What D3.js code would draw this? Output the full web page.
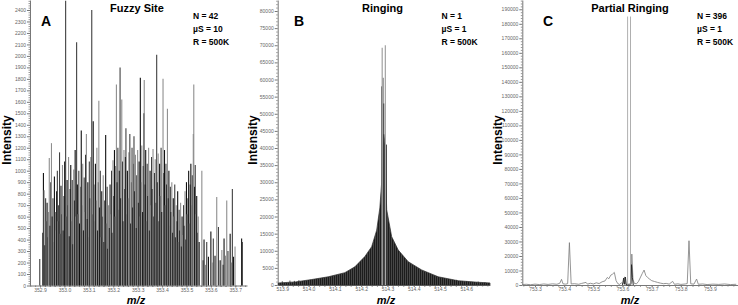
<!DOCTYPE html>
<html>
<head>
<meta charset="utf-8">
<script src="https://cdn.jsdelivr.net/npm/d3@7"></script>
<style>
  body { margin: 0; background: #fff; }
  svg { display: block; font-family: "Liberation Sans", Arial, sans-serif; }
  .tick text { fill: #666; }
</style>
</head>
<body>
<div id="chart"></div>
<script>
// ---- Panel A: Fuzzy Site (stick spectra, [m/z, intensity, shade]) ----
const fuzzySticks = [
  [352.899,230,"d"],[352.911,460,"d"],[352.914,980,"k"],[352.917,830,"l"],[352.920,350,"k"],
  [352.923,760,"d"],[352.926,560,"l"],[352.929,720,"k"],[352.932,420,"d"],[352.935,640,"l"],
  [352.938,1110,"l"],[352.941,520,"k"],[352.944,900,"d"],[352.947,1240,"l"],[352.950,600,"k"],
  [352.953,760,"d"],[352.956,380,"l"],[352.959,950,"k"],[352.962,640,"d"],[352.965,480,"l"],
  [352.968,820,"k"],[352.971,1000,"d"],[352.974,560,"l"],[352.977,700,"k"],[352.980,1160,"d"],
  [352.983,450,"l"],[352.986,870,"k"],[352.989,620,"d"],[352.992,1050,"l"],[352.995,480,"k"],
  [352.998,780,"d"],[353.001,1080,"k"],[353.005,2480,"d"],[353.008,600,"l"],[353.011,920,"k"],
  [353.014,700,"d"],[353.017,1120,"l"],[353.020,430,"k"],[353.023,840,"d"],[353.026,1050,"k"],
  [353.029,560,"l"],[353.032,920,"d"],[353.035,360,"k"],[353.038,1010,"l"],[353.041,740,"d"],
  [353.044,1180,"k"],[353.047,600,"l"],[353.050,2120,"d"],[353.053,880,"k"],[353.056,620,"l"],
  [353.059,1000,"d"],[353.062,540,"k"],[353.066,860,"l"],[353.069,1350,"k"],[353.072,700,"d"],
  [353.075,1060,"l"],[353.078,480,"k"],[353.081,940,"d"],[353.084,640,"l"],[353.087,1140,"k"],
  [353.090,1320,"l"],[353.093,580,"d"],[353.096,900,"k"],[353.099,420,"l"],[353.102,1080,"d"],
  [353.105,760,"k"],[353.108,1120,"l"],[353.112,2400,"d"],[353.115,620,"l"],[353.118,1430,"k"],
  [353.121,880,"d"],[353.124,560,"l"],[353.127,1060,"k"],[353.130,740,"d"],[353.133,1200,"l"],
  [353.136,480,"k"],[353.139,900,"d"],[353.141,1610,"l"],[353.144,680,"k"],[353.147,1000,"d"],
  [353.150,420,"l"],[353.153,820,"k"],[353.156,600,"d"],[353.159,960,"l"],[353.162,380,"k"],
  [353.165,740,"d"],[353.169,1310,"k"],[353.172,540,"l"],[353.175,860,"d"],[353.178,320,"k"],
  [353.181,700,"l"],[353.184,500,"d"],[353.187,880,"k"],[353.190,620,"l"],[353.193,1000,"d"],
  [353.196,460,"k"],[353.199,1090,"l"],[353.202,780,"d"],[353.205,1180,"k"],[353.208,600,"l"],
  [353.211,1040,"d"],[353.213,1750,"l"],[353.216,900,"k"],[353.219,1200,"d"],[353.222,660,"l"],
  [353.225,1000,"k"],[353.228,1900,"d"],[353.231,760,"k"],[353.235,1620,"l"],[353.238,1080,"d"],
  [353.241,560,"k"],[353.244,1180,"l"],[353.247,840,"d"],[353.250,1120,"k"],[353.252,1370,"d"],
  [353.255,620,"l"],[353.258,1000,"k"],[353.261,760,"d"],[353.264,1160,"l"],[353.268,1320,"d"],
  [353.271,540,"k"],[353.274,900,"l"],[353.277,1200,"d"],[353.280,680,"k"],[353.283,1060,"l"],
  [353.285,1300,"d"],[353.288,820,"k"],[353.291,1140,"l"],[353.294,500,"d"],[353.297,960,"k"],
  [353.300,1180,"l"],[353.303,720,"d"],[353.306,1080,"k"],[353.309,600,"l"],[353.311,1810,"k"],
  [353.314,900,"d"],[353.317,1220,"l"],[353.320,640,"k"],[353.323,1040,"d"],[353.326,1500,"k"],
  [353.327,1790,"l"],[353.330,880,"d"],[353.333,1180,"k"],[353.336,560,"l"],[353.339,1060,"d"],
  [353.342,780,"k"],[353.345,1200,"l"],[353.348,480,"d"],[353.351,1000,"k"],[353.354,700,"l"],
  [353.357,1120,"d"],[353.360,840,"k"],[353.363,1190,"l"],[353.366,600,"d"],[353.369,980,"k"],
  [353.372,1100,"l"],[353.375,720,"d"],[353.378,2010,"d"],[353.381,900,"k"],[353.384,1150,"l"],
  [353.387,560,"d"],[353.390,1060,"k"],[353.393,780,"l"],[353.396,1200,"d"],[353.399,640,"k"],
  [353.404,1800,"l"],[353.407,980,"d"],[353.410,1180,"k"],[353.413,700,"l"],[353.416,1060,"d"],
  [353.419,880,"k"],[353.422,1540,"l"],[353.425,760,"d"],[353.428,1000,"k"],[353.431,520,"l"],
  [353.434,860,"d"],[353.437,640,"k"],[353.440,900,"l"],[353.443,460,"d"],[353.446,760,"k"],
  [353.449,600,"l"],[353.452,880,"d"],[353.455,420,"k"],[353.458,700,"l"],[353.461,560,"d"],
  [353.464,820,"k"],[353.467,380,"l"],[353.470,660,"d"],[353.473,480,"k"],[353.476,720,"l"],
  [353.479,340,"d"],[353.482,600,"k"],[353.485,440,"l"],[353.488,700,"d"],[353.491,520,"k"],
  [353.494,820,"l"],[353.497,400,"d"],[353.500,900,"k"],[353.503,620,"l"],[353.506,760,"d"],
  [353.509,1000,"k"],[353.512,540,"l"],[353.515,880,"d"],[353.518,1060,"k"],[353.521,700,"l"],
  [353.524,960,"d"],[353.528,1320,"l"],[353.530,1750,"l"],[353.533,860,"k"],[353.536,1050,"d"],
  [353.539,620,"l"],[353.542,780,"k"],[353.545,460,"d"],[353.548,600,"l"],[353.552,380,"k"],
  [353.563,1000,"l"],[353.568,220,"d"],[353.572,400,"k"],[353.578,180,"l"],[353.583,380,"d"],
  [353.590,250,"k"],[353.600,470,"k"],[353.605,200,"l"],[353.610,410,"d"],[353.617,260,"k"],
  [353.624,770,"l"],[353.631,510,"d"],[353.638,220,"k"],[353.645,310,"l"],[353.650,180,"d"],
  [353.654,410,"k"],[353.660,260,"l"],[353.665,740,"l"],[353.670,300,"d"],[353.679,450,"k"],
  [353.684,200,"l"],[353.688,840,"d"],[353.693,250,"k"],[353.699,340,"l"],[353.726,410,"k"],
  [353.729,380,"d"]
];
const fuzzyXTicks = [352.9, 353.0, 353.1, 353.2, 353.3, 353.4, 353.5, 353.6, 353.7];
const fuzzyYTicks = [0,100,200,300,400,500,600,700,800,900,1000,1100,1200,1300,1400,1500,1600,1700,1800,1900,2000,2100,2200,2300,2400];

// ---- Panel B: Ringing ----
const ringEnvelope = [
  [513.885,600],[513.95,900],[514.012,1600],[514.075,2400],[514.138,3600],[514.176,5300],
  [514.214,8300],[514.24,11200],[514.259,16000],[514.271,22500],[514.278,30000],[514.281,40000],
  [514.286,44000],[514.291,41000],[514.294,30000],[514.297,22000],[514.316,14100],[514.341,10200],
  [514.379,6800],[514.43,4400],[514.493,2400],[514.569,1250],[514.644,800],[514.69,600]
];
const ringNoise = [
  [513.900,1100],[513.929,1300],[513.946,1200],[513.963,1400],[513.986,900],[514.009,1500],
  [514.027,1300],[514.037,1600],[514.052,1400],[514.069,1800],[514.085,1500],[514.100,2000],
  [514.116,1700],[514.133,2100],[514.449,2600],[514.468,2000],[514.487,1800],[514.506,1600],
  [514.525,1400],[514.544,1300],[514.563,1500],[514.584,1200],[514.601,1100],[514.620,900],
  [514.645,1000],[514.671,800]
];
const ringCenterDark = [[514.278,58000],[514.283,60500],[514.286,53000],[514.296,41000]];
const ringCenterLight = [[514.280,69300],[514.292,70000]];
const ringXTicks = [513.9, 514.0, 514.1, 514.2, 514.3, 514.4, 514.5, 514.6];
const ringYTicks = [0,5000,10000,15000,20000,25000,30000,35000,40000,45000,50000,55000,60000,65000,70000,75000,80000];

// ---- Panel C: Partial Ringing ----
const partialProfile = [
  [753.256,300],[753.27,500],[753.285,200],[753.30,600],[753.315,300],[753.33,700],[753.345,400],
  [753.36,800],[753.375,500],[753.385,1200],[753.391,3900],[753.396,800],[753.405,600],[753.412,900],
  [753.418,29200],[753.424,700],[753.435,900],[753.45,500],[753.46,1100],[753.475,1800],[753.48,600],
  [753.49,1200],[753.50,700],[753.51,1500],[753.52,1000],[753.53,2200],[753.54,2800],[753.548,5200],
  [753.553,4300],[753.56,6800],[753.566,7500],[753.572,8700],[753.578,3000],[753.584,900],[753.59,400],
  [753.596,1500],[753.602,600],[753.607,5600],[753.610,800],[753.614,400],[753.630,900],[753.632,21300],
  [753.636,4000],[753.64,1200],[753.648,800],[753.655,2500],[753.662,5500],[753.668,8000],[753.674,10300],
  [753.68,6500],[753.686,5200],[753.692,4200],[753.70,3000],[753.71,2400],[753.72,1800],[753.73,1300],
  [753.74,900],[753.75,1100],[753.76,600],[753.772,2500],[753.778,500],[753.79,800],[753.80,400],
  [753.815,700],[753.822,1000],[753.828,30500],[753.834,800],[753.845,600],[753.854,4100],[753.86,500],
  [753.875,700],[753.89,300],[753.91,600],[753.93,400],[753.95,700],[753.97,300],[753.99,500]
];
const partialDark = [
  [753.600,0],[753.604,4800],[753.607,500],[753.610,5500],[753.613,0],
  [753.628,0],[753.631,14000],[753.634,5000],[753.637,0]
];
const partialCenter = [[753.6175,185000],[753.6275,185000]];
const partialXTicks = [753.3, 753.4, 753.5, 753.6, 753.7, 753.8, 753.9];
const partialYTicks = [0,10000,20000,30000,40000,50000,60000,70000,80000,90000,100000,110000,120000,130000,140000,150000,160000,170000,180000,190000];

const shadeColor = { k: "#111", d: "#404040", l: "#8e8e8e" };

const width = 738, height = 305;
const svg = d3.select("#chart").append("svg")
  .attr("width", width)
  .attr("height", height);

// stripe pattern for the ringing body
const defs = svg.append("defs");
const pat = defs.append("pattern")
  .attr("id", "stripes")
  .attr("patternUnits", "userSpaceOnUse")
  .attr("width", 2).attr("height", 4);
pat.append("rect").attr("width", 2).attr("height", 4).attr("fill", "#5a5a5a");
pat.append("rect").attr("width", 1.3).attr("height", 4).attr("fill", "#1c1c1c");

function drawFrame(p) {
  const x = d3.scaleLinear().domain(p.xDomain).range([p.left, p.right]);
  const y = d3.scaleLinear().domain([0, p.yMax]).range([p.bottom, 0]);
  const g = svg.append("g");

  // minor ticks along y
  const yStep = p.yTicks[1] - p.yTicks[0];
  const yMinor = [];
  p.yTicks.forEach(t => { for (let k = 1; k < 5; k++) yMinor.push(t + k * yStep / 5); });
  g.append("g")
    .attr("transform", `translate(${p.left},0)`)
    .call(d3.axisLeft(y).tickValues(yMinor.filter(v => v < p.yMax)).tickSize(1.5).tickFormat(""))
    .call(a => a.select(".domain").remove())
    .selectAll("line").attr("stroke", "#999");

  g.append("g")
    .attr("transform", `translate(${p.left},0)`)
    .call(d3.axisLeft(y).tickValues(p.yTicks).tickSize(3).tickPadding(1).tickSizeOuter(0).tickFormat(d3.format("d")))
    .call(a => a.select(".domain").attr("stroke", "#777"))
    .call(a => a.selectAll("line").attr("stroke", "#777"))
    .selectAll("text").attr("font-size", "5px");

  // minor ticks along x
  const xMinor = [];
  p.xTicks.forEach(t => { for (let k = -4; k < 5; k++) xMinor.push(+(t + k * 0.02).toFixed(3)); });
  g.append("g")
    .attr("transform", `translate(0,${p.bottom})`)
    .call(d3.axisBottom(x).tickValues(xMinor.filter(v => v > p.xDomain[0] && v < p.xDomain[1])).tickSize(1.5).tickFormat(""))
    .call(a => a.select(".domain").remove())
    .selectAll("line").attr("stroke", "#888");

  g.append("g")
    .attr("transform", `translate(0,${p.bottom})`)
    .call(d3.axisBottom(x).tickValues(p.xTicks).tickSize(2).tickPadding(0.5).tickSizeOuter(0).tickFormat(d3.format(".1f")))
    .call(a => a.select(".domain").attr("stroke", "#777"))
    .call(a => a.selectAll("line").attr("stroke", "#777"))
    .selectAll("text").attr("font-size", "5px");

  // labels
  svg.append("text")
    .attr("transform", `translate(${p.ylabelX},${140}) rotate(-90)`)
    .attr("text-anchor", "middle")
    .attr("font-size", "12px").attr("font-weight", "bold")
    .text("Intensity");
  svg.append("text")
    .attr("x", p.mzX).attr("y", 303.5)
    .attr("text-anchor", "middle")
    .attr("font-size", "11px").attr("font-weight", "bold").attr("font-style", "italic")
    .text("m/z");
  svg.append("text")
    .attr("x", p.titleX).attr("y", 12)
    .attr("text-anchor", "middle")
    .attr("font-size", "11px").attr("font-weight", "bold")
    .text(p.title);
  svg.append("text")
    .attr("x", p.letterX).attr("y", 26)
    .attr("font-size", "14px").attr("font-weight", "bold")
    .text(p.letter);
  p.stats.forEach((s, i) => {
    svg.append("text")
      .attr("x", p.statsX).attr("y", 19 + i * 13)
      .attr("font-size", "8.5px").attr("font-weight", "bold")
      .text(s);
  });
  return { x, y };
}

function drawSticks(data, x, y, color, w) {
  svg.append("g").selectAll("line")
    .data(data)
    .enter()
    .append("line")
    .attr("x1", d => x(d[0])).attr("x2", d => x(d[0]))
    .attr("y1", y(0)).attr("y2", d => y(d[1]))
    .attr("stroke", d => typeof color === "function" ? color(d) : color)
    .attr("stroke-width", w);
}

// Panel A
const pA = drawFrame({
  xDomain: [352.859, 353.748], left: 30, right: 247, bottom: 285.5, yMax: 2487,
  xTicks: fuzzyXTicks, yTicks: fuzzyYTicks,
  ylabelX: 11, mzX: 136, titleX: 137, title: "Fuzzy Site",
  letterX: 41, letter: "A", statsX: 193, stats: ["N = 42", "µS = 10", "R = 500K"]
});
drawSticks(fuzzySticks, pA.x, pA.y, d => shadeColor[d[2]], 1.1);

// Panel B
const pB = drawFrame({
  xDomain: [513.8825, 514.69], left: 277.7, right: 490, bottom: 285, yMax: 83212,
  xTicks: ringXTicks, yTicks: ringYTicks,
  ylabelX: 257, mzX: 386, titleX: 382.5, title: "Ringing",
  letterX: 294, letter: "B", statsX: 441.5, stats: ["N = 1", "µS = 1", "R = 500K"]
});
drawSticks(ringNoise, pB.x, pB.y, "#444", 0.9);
svg.append("path")
  .datum(ringEnvelope)
  .attr("fill", "url(#stripes)")
  .attr("stroke", "#2a2a2a")
  .attr("stroke-width", 0.7)
  .attr("d", d3.area().x(d => pB.x(d[0])).y0(pB.y(0)).y1(d => pB.y(d[1])));
drawSticks(ringCenterDark, pB.x, pB.y, "#3a3a3a", 1);
drawSticks(ringCenterLight, pB.x, pB.y, "#a8a8a8", 1.3);

// Panel C
const pC = drawFrame({
  xDomain: [753.2565, 753.996], left: 522.3, right: 738, bottom: 285, yMax: 196400,
  xTicks: partialXTicks, yTicks: partialYTicks,
  ylabelX: 502, mzX: 630, titleX: 630, title: "Partial Ringing",
  letterX: 543, letter: "C", statsX: 697, stats: ["N = 396", "µS = 1", "R = 500K"]
});
svg.append("path")
  .datum(partialProfile)
  .attr("fill", "none")
  .attr("stroke", "#7a7a7a")
  .attr("stroke-width", 0.8)
  .attr("d", d3.line().x(d => pC.x(d[0])).y(d => pC.y(d[1])));
svg.append("path")
  .datum(partialDark)
  .attr("fill", "none")
  .attr("stroke", "#222")
  .attr("stroke-width", 0.9)
  .attr("d", d3.line().x(d => pC.x(d[0])).y(d => pC.y(d[1])));
drawSticks(partialCenter, pC.x, pC.y, "#9a9a9a", 0.8);
</script>
</body>
</html>
